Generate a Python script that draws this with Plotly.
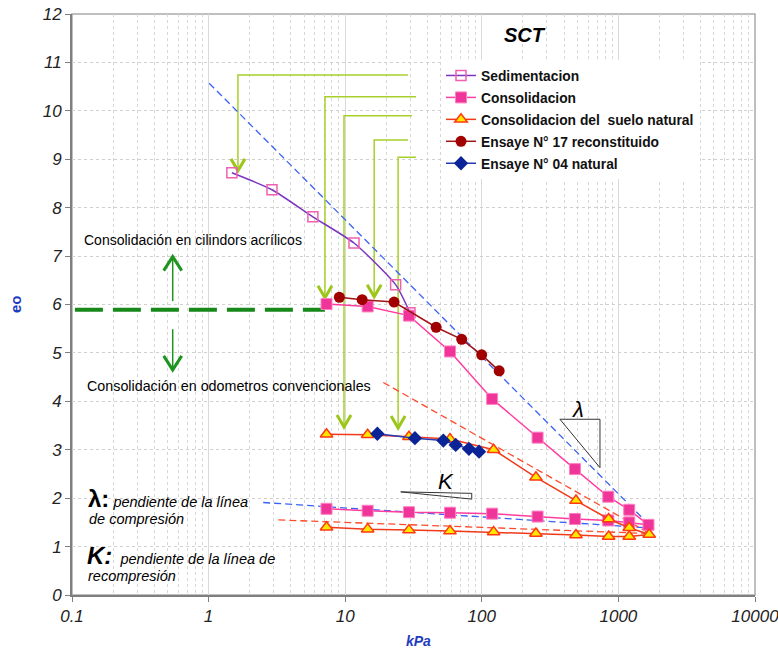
import math
import plotly.graph_objects as go

# ---- data: void ratio eo versus vertical stress (kPa) ----
sed_x = [1.48, 2.91, 5.8, 11.6, 23.4, 29.8]
sed_y = [8.72, 8.37, 7.81, 7.27, 6.41, 5.83]

cons_x = [7.3, 14.6, 29.3, 58.5, 119, 256, 481, 843, 1200, 1660,
          1200, 843, 481, 256, 119, 58.5, 29.3, 14.6, 7.3]
cons_y = [6.01, 5.96, 5.77, 5.03, 4.05, 3.25, 2.60, 2.03, 1.76, 1.45,
          1.50, 1.54, 1.57, 1.62, 1.68, 1.70, 1.71, 1.74, 1.78]

nat_x = [7.3, 14.6, 29.3, 58.5, 122, 249, 489, 848, 1200, 1680,
         1200, 848, 489, 249, 122, 58.5, 29.3, 14.6, 7.3]
nat_y = [3.32, 3.31, 3.27, 3.22, 3.00, 2.43, 1.95, 1.57, 1.39, 1.25,
         1.21, 1.21, 1.24, 1.27, 1.30, 1.32, 1.34, 1.36, 1.40]

e17_x = [9.06, 13.3, 22.8, 46.3, 71.3, 99.8, 134]
e17_y = [6.15, 6.10, 6.05, 5.53, 5.28, 4.96, 4.63]

e04_x = [17.2, 32.4, 52.3, 64.4, 80.5, 95.5]
e04_y = [3.33, 3.24, 3.19, 3.10, 3.02, 2.96]

# slope reference lines (lambda / kappa)
lam_x, lam_y = [1.01, 1780], [10.57, 1.38]
kap_x, kap_y = [2.51, 1780], [1.91, 1.38]
nlam_x, nlam_y = [19.0, 1700], [4.39, 1.27]
nkap_x, nkap_y = [3.24, 1700], [1.55, 1.27]

# pointer arrows: (right end x, column x, horizontal y, tip y)
pointers = [(28.8, 1.64, 10.74, 8.76),
            (33.0, 7.11, 10.29, 6.14),
            (30.8, 9.8, 9.90, 3.47),
            (28.8, 16.3, 9.40, 6.16),
            (33.0, 24.4, 9.04, 3.45)]

# boundary between the two consolidation methods
split_x, split_y = [0.105, 7.1], [5.89, 5.89]
updown_x = 0.546

x_ticks = [0.1, 1, 10, 100, 1000, 10000]
x_ticktext = ["0.1", "1", "10", "100", "1000", "10000"]
y_ticks = list(range(0, 13))

# ---- plot geometry (pixels) ----
W, H = 778, 649
ML, MR, MT, MB = 72, 23, 14, 54
PW, PH = W - ML - MR, H - MT - MB
DEC_PX = PW / 5.0          # pixels per decade
UNIT_PX = PH / 12.0        # pixels per unit of eo


def px(xp):
    return (xp - ML) / PW


def py(yp):
    return (H - MB - yp) / PH


FONT = "Arial, Liberation Sans, sans-serif"
fig = go.Figure()

LIME = "#A8CF2A"
DKGREEN = "#1E9420"


def chevron(xt, yt, half_px, tall_px, up):
    f = 10 ** (half_px / DEC_PX)
    dy = tall_px / UNIT_PX * (-1 if up else 1)
    return [xt / f, xt, xt * f], [yt + dy, yt, yt + dy]


# lime pointer arrows
for xr, xc, yh, yt in pointers:
    fig.add_trace(go.Scatter(x=[xr, xc, xc], y=[yh, yh, yt + 0.05], mode="lines",
                             line=dict(color=LIME, width=1.5), showlegend=False,
                             hoverinfo="skip"))
    cx, cy = chevron(xc, yt, 7, 12, up=False)
    fig.add_trace(go.Scatter(x=cx, y=cy, mode="lines",
                             line=dict(color="#9CC61A", width=3), showlegend=False,
                             hoverinfo="skip"))

# green separation line and up/down arrows
fig.add_trace(go.Scatter(x=split_x, y=split_y, mode="lines",
                         line=dict(color="#17881A", width=4, dash="28px,10px"),
                         showlegend=False, hoverinfo="skip"))
fig.add_trace(go.Scatter(x=[updown_x, updown_x], y=[6.07, 6.97], mode="lines",
                         line=dict(color=DKGREEN, width=1.5), showlegend=False,
                         hoverinfo="skip"))
cx, cy = chevron(updown_x, 6.99, 9, 14, up=True)
fig.add_trace(go.Scatter(x=cx, y=cy, mode="lines", line=dict(color=DKGREEN, width=3),
                         showlegend=False, hoverinfo="skip"))
fig.add_trace(go.Scatter(x=[updown_x, updown_x], y=[5.49, 4.67], mode="lines",
                         line=dict(color=DKGREEN, width=1.5), showlegend=False,
                         hoverinfo="skip"))
cx, cy = chevron(updown_x, 4.65, 9, 14, up=False)
fig.add_trace(go.Scatter(x=cx, y=cy, mode="lines", line=dict(color=DKGREEN, width=3),
                         showlegend=False, hoverinfo="skip"))

# dashed slope lines
for lx, ly, col in [(lam_x, lam_y, "#3B62F5"), (kap_x, kap_y, "#3B62F5"),
                    (nlam_x, nlam_y, "#FF4A2A"), (nkap_x, nkap_y, "#FF4A2A")]:
    fig.add_trace(go.Scatter(x=lx, y=ly, mode="lines",
                             line=dict(color=col, width=1.3, dash="7px,4px"),
                             showlegend=False, hoverinfo="skip"))

# slope triangles
fig.add_trace(go.Scatter(x=[373, 733, 733, 373], y=[3.63, 3.63, 2.63, 3.63], mode="lines",
                         line=dict(color="#333333", width=1), showlegend=False,
                         hoverinfo="skip"))
fig.add_trace(go.Scatter(x=[25.5, 84.4, 84.4, 25.5], y=[2.13, 2.10, 1.98, 2.13], mode="lines",
                         line=dict(color="#333333", width=1), showlegend=False,
                         hoverinfo="skip"))

# ---- data series ----
fig.add_trace(go.Scatter(
    x=sed_x, y=sed_y, name="Sedimentacion", mode="lines+markers",
    line=dict(color="#7B35C0", width=1.5, shape="spline", smoothing=0.6),
    marker=dict(symbol="square-open", size=10, color="#F060B0", line=dict(width=1.5))))
fig.add_trace(go.Scatter(
    x=cons_x, y=cons_y, name="Consolidacion", mode="lines+markers",
    line=dict(color="#FF3DA0", width=1.5),
    marker=dict(symbol="square", size=11, color="#F0359A",
                line=dict(color="#FF80C0", width=1))))
fig.add_trace(go.Scatter(
    x=nat_x, y=nat_y, name="Consolidacion del  suelo natural", mode="lines+markers",
    line=dict(color="#F03A1A", width=1.5),
    marker=dict(symbol="triangle-up", size=11, color="#FFE800",
                line=dict(color="#FF3A10", width=1.5))))
fig.add_trace(go.Scatter(
    x=e17_x, y=e17_y, name="Ensaye N° 17 reconstituido", mode="lines+markers",
    line=dict(color="#A01515", width=1.5),
    marker=dict(symbol="circle", size=11, color="#A00000")))
fig.add_trace(go.Scatter(
    x=e04_x, y=e04_y, name="Ensaye N° 04 natural", mode="lines+markers",
    line=dict(color="#2A3AB5", width=1.5),
    marker=dict(symbol="diamond", size=11, color="#0A2396")))

# ---- text ----
ann = []


def text(t, xp, yp, size=14, xanchor="left", **kw):
    ann.append(dict(text=t, x=px(xp), y=py(yp), xref="paper", yref="paper",
                    xanchor=xanchor, yanchor="middle", showarrow=False,
                    font=dict(family=FONT, size=size, color=kw.pop("color", "#000")), **kw))


text("<b><i>SCT</i></b>", 525, 35, size=20, xanchor="center")
text("Consolidación en cilindors acrílicos", 82, 240, size=14)
text("Consolidación en odometros convencionales", 85, 386, size=14.3)
text("<b><span style='font-size:24px'>λ:</span></b> <i>pendiente de la línea</i>", 86, 498, size=14.5)
text("<i>de compresión</i>", 87, 519, size=14.5)
text("<b><i><span style='font-size:24px'>K:</span></i></b>  <i>pendiente de la línea de</i>", 85, 555, size=14.5)
text("<i>recompresión</i>", 86, 576, size=14.5)
text("<i>λ</i>", 578, 409, size=22, xanchor="center")
text("<i>K</i>", 446, 481, size=22, xanchor="center")
text("<b>eo</b>", 15, 304, size=15, xanchor="center", textangle=-90, color="#1F3CC0")
text("<b><i>kPa</i></b>", 418, 641, size=14, xanchor="center", color="#1F3CC0")

minor_vals = [k * 10 ** n for n in range(-1, 4) for k in range(2, 10)]

fig.update_layout(
    width=W, height=H,
    margin=dict(l=ML, r=MR, t=MT, b=MB, autoexpand=False),
    paper_bgcolor="white", plot_bgcolor="white",
    font=dict(family=FONT, color="#222"),
    annotations=ann,
    shapes=[dict(type="rect", xref="paper", yref="paper", x0=0, x1=1, y0=0, y1=1,
                 line=dict(color="#AAAAAA", width=1.5), layer="below")],
    legend=dict(x=px(441), y=py(60), xanchor="left", yanchor="top",
                bgcolor="white", borderwidth=0, traceorder="grouped",
                tracegroupgap=1,
                font=dict(family=FONT, size=13.8, color="#111", weight="bold")),
    showlegend=True,
)
# each series in its own group so the gap spaces the rows
for i, tr in enumerate(fig.data):
    if tr.showlegend is not False:
        tr.legendgroup = f"g{i}"

fig.update_xaxes(
    type="log", range=[-1, 4], tickvals=x_ticks, ticktext=x_ticktext,
    automargin=False, ticklabeloverflow="allow",
    showline=True, linecolor="#7F7F7F", linewidth=2,
    ticks="outside", ticklen=5, tickcolor="#7F7F7F",
    tickfont=dict(family=FONT, size=17, color="#222", style="italic"),
    showgrid=True, gridcolor="#DADADA", gridwidth=1,
    minor=dict(tickvals=minor_vals, showgrid=True, gridcolor="#D6D6D6",
               griddash="dot", ticks=""),
    zeroline=False,
)
fig.update_yaxes(
    range=[0, 12], tickvals=y_ticks, automargin=False, ticklabeloverflow="allow",
    showline=True, linecolor="#7F7F7F", linewidth=2,
    ticks="outside", ticklen=5, tickcolor="#7F7F7F",
    tickfont=dict(family=FONT, size=17, color="#222", style="italic"),
    showgrid=True, gridcolor="#D0D0D0", griddash="dot", gridwidth=1,
    zeroline=False,
)

fig.write_html("out.html")
